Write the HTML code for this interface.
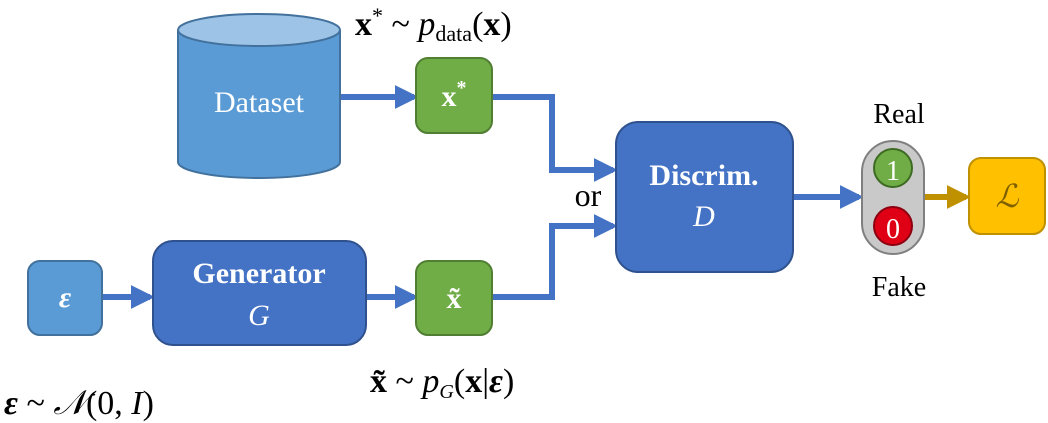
<!DOCTYPE html>
<html><head><meta charset="utf-8"><style>
html,body{margin:0;padding:0;background:#fff;}
svg{display:block;}
text{font-family:"Liberation Serif",serif;}
</style></head><body>
<svg width="1048" height="423" viewBox="0 0 1048 423" xmlns="http://www.w3.org/2000/svg">
<defs>
<marker id="ab" markerWidth="4" markerHeight="4" refX="3.2" refY="2" orient="auto" markerUnits="strokeWidth"><path d="M0,0 L4,2 L0,4 z" fill="#4472c4"/></marker>
<marker id="ag" markerWidth="4" markerHeight="4" refX="3.2" refY="2" orient="auto" markerUnits="strokeWidth"><path d="M0,0 L4,2 L0,4 z" fill="#bf9000"/></marker>
</defs>
<!-- cylinder -->
<path d="M178,30 L178,162 A81,16 0 0 0 340,162 L340,30" fill="#5b9bd5" stroke="#41719c" stroke-width="2"/>
<ellipse cx="259" cy="30" rx="81" ry="16" fill="#9dc3e6" stroke="#41719c" stroke-width="2"/>
<text x="259" y="112" font-size="30" fill="#fff" text-anchor="middle">Dataset</text>
<!-- arrows -->
<g stroke="#4472c4" stroke-width="6" fill="none">
<line x1="341" y1="97" x2="414" y2="97" marker-end="url(#ab)"/>
<polyline points="492,97 552,97 552,170 613,170" marker-end="url(#ab)"/>
<polyline points="492,297 552,297 552,226 613,226" marker-end="url(#ab)"/>
<line x1="102" y1="297" x2="150" y2="297" marker-end="url(#ab)"/>
<line x1="366" y1="297" x2="414" y2="297" marker-end="url(#ab)"/>
<line x1="793" y1="197" x2="859" y2="197" marker-end="url(#ab)"/>
</g>
<line x1="925" y1="197" x2="966" y2="197" stroke="#bf9000" stroke-width="6" marker-end="url(#ag)"/>
<!-- x* box -->
<rect x="416" y="58" width="76" height="75" rx="12" fill="#70ad47" stroke="#507e32" stroke-width="2"/>
<text x="454" y="106" font-size="30" font-weight="bold" fill="#fff" text-anchor="middle">x<tspan font-size="20" dy="-12">*</tspan></text>
<text x="355" y="35" font-size="34" fill="#000"><tspan font-weight="bold">x</tspan><tspan font-size="22" dy="-12">*</tspan><tspan dy="12"> ~ </tspan><tspan font-style="italic">p</tspan><tspan font-size="22" dy="6">data</tspan><tspan dy="-6">(</tspan><tspan font-weight="bold">x</tspan>)</text>
<!-- discrim -->
<rect x="616" y="122" width="177" height="150" rx="22" fill="#4472c4" stroke="#2f528f" stroke-width="2"/>
<text x="704" y="185" font-size="30" font-weight="bold" fill="#fff" text-anchor="middle">Discrim.</text>
<text x="704" y="226" font-size="30" font-style="italic" fill="#fff" text-anchor="middle">D</text>
<text x="588" y="206" font-size="32" fill="#000" text-anchor="middle">or</text>
<!-- traffic light -->
<rect x="862" y="141" width="62" height="113" rx="31" fill="#c9c9c9" stroke="#7f7f7f" stroke-width="2"/>
<circle cx="893" cy="168" r="19" fill="#70ad47" stroke="#3d6b21" stroke-width="2"/>
<text x="893" y="180" font-size="28" fill="#fff" text-anchor="middle">1</text>
<circle cx="893" cy="226" r="19" fill="#e00016" stroke="#8c0010" stroke-width="2"/>
<text x="893" y="238" font-size="28" fill="#fff" text-anchor="middle">0</text>
<text x="899" y="123" font-size="28" fill="#000" text-anchor="middle">Real</text>
<text x="899" y="296" font-size="28" fill="#000" text-anchor="middle">Fake</text>
<!-- L -->
<rect x="969" y="158" width="76" height="76" rx="12" fill="#ffc000" stroke="#bf9000" stroke-width="2"/>
<text x="1007" y="207" font-size="32" font-style="italic" fill="#7f6000" text-anchor="middle">ℒ</text>
<!-- epsilon -->
<rect x="28" y="261" width="74" height="74" rx="12" fill="#5b9bd5" stroke="#41719c" stroke-width="2"/>
<text x="65" y="307" font-size="30" font-style="italic" font-weight="bold" fill="#fff" text-anchor="middle">ε</text>
<!-- generator -->
<rect x="153" y="241" width="213" height="104" rx="20" fill="#4472c4" stroke="#2f528f" stroke-width="2"/>
<text x="259" y="283" font-size="30" font-weight="bold" fill="#fff" text-anchor="middle">Generator</text>
<text x="259" y="325" font-size="30" font-style="italic" fill="#fff" text-anchor="middle">G</text>
<!-- x tilde -->
<rect x="416" y="261" width="76" height="74" rx="12" fill="#70ad47" stroke="#507e32" stroke-width="2"/>
<text x="454" y="308" font-size="30" font-weight="bold" fill="#fff" text-anchor="middle">x̃</text>
<text x="370" y="392" font-size="34" fill="#000"><tspan font-weight="bold">x̃</tspan> ~ <tspan font-style="italic">p</tspan><tspan font-size="20" font-style="italic" dy="6">G</tspan><tspan dy="-6">(</tspan><tspan font-weight="bold">x</tspan>|<tspan font-weight="bold" font-style="italic">ε</tspan>)</text>
<text x="4" y="414" font-size="34" fill="#000"><tspan font-weight="bold" font-style="italic">ε</tspan> ~ <tspan font-style="italic">𝒩</tspan>(0, <tspan font-style="italic">I</tspan>)</text>
</svg>
</body></html>
